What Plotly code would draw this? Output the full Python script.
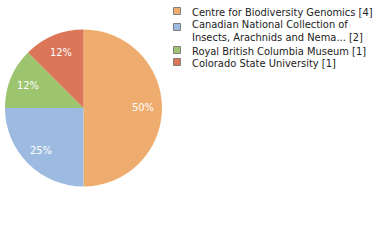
import math
import plotly.graph_objects as go

labels = ["Centre for Biodiversity Genomics [4]",
          "Canadian National Collection of<br>Insects, Arachnids and Nema... [2]",
          "Royal British Columbia Museum [1]",
          "Colorado State University [1]"]
values = [4, 2, 1, 1]
pct_labels = ["50%", "25%", "12%", "12%"]
colors = ["#EEAD6F", "#9DBBE1", "#9DC46F", "#DC7659"]

W, H = 380, 240
FONT = "DejaVu Sans Condensed"
# pie box in pixels
px0, px1, py0, py1 = 5, 162, 29.5, 186.5
cx, cy, r = (px0 + px1) / 2, (py0 + py1) / 2, (px1 - px0) / 2

def fx(x):
    return x / W

def fy(y):
    return 1 - y / H

fig = go.Figure(go.Pie(
    labels=labels, values=values, textinfo="none",
    marker=dict(colors=colors, line=dict(width=0)),
    sort=False, direction="clockwise", rotation=0,
    domain=dict(x=[fx(px0), fx(px1)], y=[fy(py1), fy(py0)]),
    hoverinfo="none", showlegend=False,
))

# percentage labels placed along the mid-angle of each slice
total = sum(values)
cum = 0
for v, t in zip(values, pct_labels):
    mid = (cum + v / 2) / total * 2 * math.pi
    cum += v
    lx = cx + 0.76 * r * math.sin(mid)
    ly = cy - 0.76 * r * math.cos(mid)
    fig.add_annotation(x=fx(lx), y=fy(ly), xref="paper", yref="paper",
                       text=t, showarrow=False, xanchor="center", yanchor="middle",
                       font=dict(family=FONT, size=11, color="white"))

# legend
sq_centers = [11, 27, 50, 62]
line_y = [[12.8], [25.0, 37.0], [51.3], [64.0]]
for lab, col, yc, lys in zip(labels, colors, sq_centers, line_y):
    fig.add_shape(type="rect", xref="paper", yref="paper",
                  x0=fx(173.5), x1=fx(180.5), y0=fy(yc + 3.5), y1=fy(yc - 3.5),
                  fillcolor=col, line=dict(color="#7f7f7f", width=1))
    for part, ly in zip(lab.split("<br>"), lys):
        fig.add_annotation(x=fx(190), y=fy(ly), xref="paper", yref="paper",
                           text=part, showarrow=False, xanchor="left", yanchor="middle",
                           align="left",
                           font=dict(family=FONT, size=11, color="#222"))

fig.update_layout(
    width=W, height=H, margin=dict(l=0, r=0, t=0, b=0),
    paper_bgcolor="white", plot_bgcolor="white", showlegend=False,
)
fig.write_html("out.html")
